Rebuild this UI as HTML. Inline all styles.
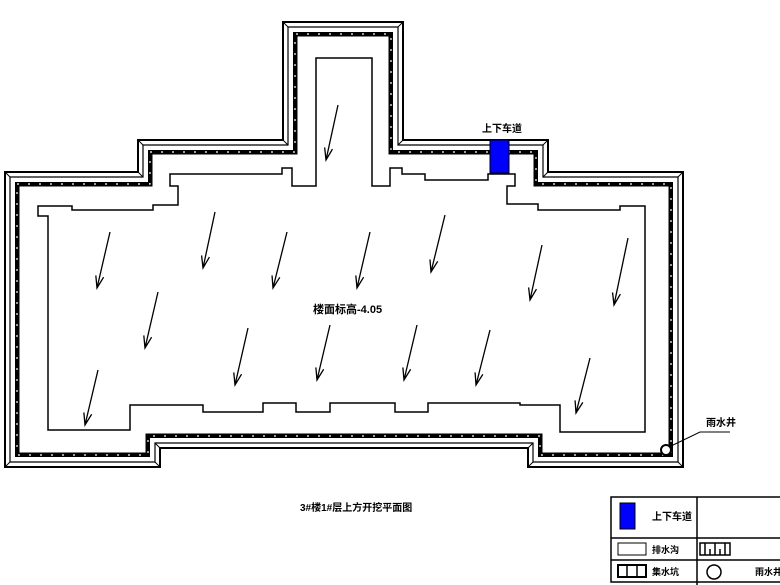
<!DOCTYPE html>
<html><head><meta charset="utf-8"><style>
html,body{margin:0;padding:0;background:#fff;width:780px;height:585px;overflow:hidden}
svg{display:block}
text{font-family:"Liberation Sans","Noto Sans CJK SC",sans-serif;font-weight:bold}
</style></head><body>
<svg id="s" width="780" height="585" viewBox="0 0 780 585" xmlns="http://www.w3.org/2000/svg">
<g id="walls" fill="none" stroke="#000"></g>
<polygon fill="none" stroke="#000" stroke-width="1.5" points="38,206 72,206 72,210 153,210 153,205 178,205 178,186 170,186 170,174 282,174 282,168 292,168 292,186 316,186 316,58 372,58 372,186 390,186 390,168 402,168 402,174 425,174 425,180 488,180 488,174 515,174 515,186 507,186 507,204 538,204 538,210 620,210 620,206 645,206 645,432 560,432 560,405 520,405 520,403 428,403 428,412 395,412 395,403 330,403 330,412 296,412 296,403 263,403 263,412 203,412 203,405 130,405 130,430 48,430 48,216 38,216"/>
<g id="arr" stroke="#000" stroke-width="1.3" fill="none"></g>
<rect x="490" y="140" width="19" height="33" fill="#0000ff" stroke="#000"/>
<text x="482" y="132" font-size="10">上下车道</text>
<text x="313" y="313" font-size="11">楼面标高-4.05</text>
<circle cx="666" cy="450" r="5" fill="#fff" stroke="#000" stroke-width="2"/>
<polyline points="669,447 700,432 730,432" fill="none" stroke="#000"/>
<text x="706" y="426" font-size="10">雨水井</text>
<text x="300" y="511" font-size="10">3#楼1#层上方开挖平面图</text>
<g stroke="#000" stroke-width="1.5" fill="none">
<rect x="611" y="497" width="175" height="85"/>
<line x1="611" y1="538" x2="780" y2="538"/>
<line x1="611" y1="560" x2="780" y2="560"/>
<line x1="697" y1="497" x2="697" y2="585"/>
<rect x="618" y="543" width="28" height="12" stroke-width="1"/>
<rect x="618" y="565" width="28" height="12" stroke-width="2"/>
<line x1="627" y1="565" x2="627" y2="577"/><line x1="637" y1="565" x2="637" y2="577"/>
<rect x="700" y="543" width="30" height="12" stroke-width="1.5"/>
<path d="M705 543v12M710 549v6M715 543v12M720 549v6M725 543v12"/>
<circle cx="714" cy="572" r="7"/>
</g>
<rect x="620" y="503" width="15" height="26" fill="#0000ff" stroke="#000"/>
<text x="652" y="520" font-size="10">上下车道</text>
<text x="652" y="553" font-size="9">排水沟</text>
<text x="652" y="575" font-size="9">集水坑</text>
<text x="755" y="575" font-size="9">雨水井</text>
</svg>
<script>
var P=[[5,172],[138,172],[138,140],[283,140],[283,22],[403,22],[403,140],[548,140],[548,172],[683,172],[683,467],[528,467],[528,448],[160,448],[160,467],[5,467]];
function off(d){var n=P.length,r=[];for(var i=0;i<n;i++){var a=P[(i-1+n)%n],b=P[i],c=P[(i+1)%n];
var e1=[Math.sign(b[0]-a[0]),Math.sign(b[1]-a[1])],e2=[Math.sign(c[0]-b[0]),Math.sign(c[1]-b[1])];
var n1=[-e1[1],e1[0]],n2=[-e2[1],e2[0]];r.push([b[0]+d*(n1[0]+n2[0]),b[1]+d*(n1[1]+n2[1])]);}return r;}
var g=document.getElementById('walls'),NS="http://www.w3.org/2000/svg";
function poly(pts,w,dash){var p=document.createElementNS(NS,'polygon');p.setAttribute('points',pts.map(function(q){return q.join(',')}).join(' '));p.setAttribute('stroke-width',w);if(dash){p.setAttribute('stroke-dasharray',dash);p.setAttribute('stroke','#fff');}g.appendChild(p);}
var o0=off(0),o1=off(5),o3=off(14);
poly(o0,2);poly(o1,1.2);poly(off(12),4);poly(off(12),1.2,"2,9");poly(o3,1);
for(var i=0;i<o0.length;i++){var l=document.createElementNS(NS,'line');l.setAttribute('x1',o0[i][0]);l.setAttribute('y1',o0[i][1]);l.setAttribute('x2',o1[i][0]);l.setAttribute('y2',o1[i][1]);l.setAttribute('stroke-width',1);g.appendChild(l);}
var A=[[338,105,326,160],[215,212,203,268],[110,232,97,288],[287,232,273,288],[370,232,357,288],[445,215,431,272],[542,245,530,300],[628,238,614,305],[158,292,145,348],[248,328,235,385],[330,325,317,380],[417,325,404,380],[490,330,476,385],[590,358,576,413],[98,370,85,425]];
var ga=document.getElementById('arr');
A.forEach(function(a){var dx=a[2]-a[0],dy=a[3]-a[1],L=Math.hypot(dx,dy),ux=dx/L,uy=dy/L,px=-uy,py=ux,h=12,w=4;
var p=document.createElementNS(NS,'path');
p.setAttribute('d','M'+a[0]+' '+a[1]+'L'+a[2]+' '+a[3]+'M'+(a[2]-ux*h+px*w)+' '+(a[3]-uy*h+py*w)+'L'+a[2]+' '+a[3]+'L'+(a[2]-ux*h-px*w)+' '+(a[3]-uy*h-py*w));
ga.appendChild(p);});
</script>
</body></html>
